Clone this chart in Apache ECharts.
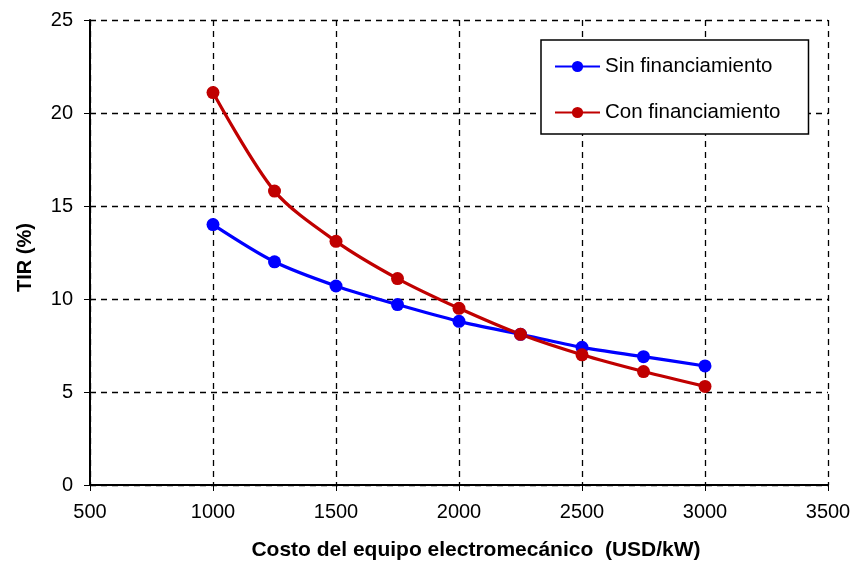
<!DOCTYPE html>
<html>
<head>
<meta charset="utf-8">
<script src="https://cdn.jsdelivr.net/npm/echarts@6/dist/echarts.min.js"></script>
<style>html,body{margin:0;padding:0;background:#fff}#c{width:855px;height:563px}</style>
</head>
<body>
<div id="c"></div>
<script>
// Equipment cost (USD/kW) and internal rate of return (%)
const costs = [1000, 1250, 1500, 1750, 2000, 2250, 2500, 2750, 3000];
const sinFinanciamiento = [14.0, 12.0, 10.7, 9.7, 8.8, 8.1, 7.4, 6.9, 6.4];
const conFinanciamiento = [21.1, 15.8, 13.1, 11.1, 9.5, 8.1, 7.0, 6.1, 5.3];
const seriesNames = ['Sin financiamiento', 'Con financiamiento'];
const xTitle = 'Costo del equipo electromecánico  (USD/kW)';
const yTitle = 'TIR (%)';

const font = '"Liberation Sans", Arial, sans-serif';
const pair = (xs, ys) => xs.map((x, i) => [x, ys[i]]);

const chart = echarts.init(document.getElementById('c'));
chart.setOption({
  animation: false,
  backgroundColor: '#fff',
  grid: { left: 90, right: 27, top: 20, bottom: 78, outerBoundsMode: 'none' },
  legend: {
    orient: 'vertical',
    left: 541, top: 40,
    padding: [16, 28, 11, 13],
    borderColor: '#000', borderWidth: 1.5, backgroundColor: '#fff',
    itemWidth: 45, itemHeight: 14, itemGap: 25,
    textStyle: { fontFamily: font, fontSize: 20.5, color: '#000' },
    data: seriesNames
  },
  xAxis: {
    type: 'value', min: 500, max: 3500, interval: 500,
    name: xTitle, nameLocation: 'middle', nameGap: 55,
    nameTextStyle: { fontFamily: font, fontSize: 21, fontWeight: 'bold', color: '#000', padding: [0, 0, 0, 34] },
    axisLine: { lineStyle: { color: '#000', width: 2 } },
    axisTick: { show: true, length: 6, lineStyle: { color: '#000', width: 1 } },
    axisLabel: { fontFamily: font, fontSize: 20, color: '#000', margin: 17, formatter: v => String(v) },
    splitLine: { show: true, lineStyle: { color: '#000', type: [6, 5], width: 1.3 } }
  },
  yAxis: {
    type: 'value', min: 0, max: 25, interval: 5,
    name: yTitle, nameLocation: 'middle', nameGap: 55, nameRotate: 90,
    nameTextStyle: { fontFamily: font, fontSize: 20, fontWeight: 'bold', color: '#000', padding: [0, 10, 0, 0] },
    axisLine: { show: true, lineStyle: { color: '#000', width: 2 } },
    axisTick: { show: true, length: 6, lineStyle: { color: '#000', width: 1 } },
    axisLabel: { fontFamily: font, fontSize: 20, color: '#000', margin: 17 },
    splitLine: { show: true, lineStyle: { color: '#000', type: [6, 5], width: 1.3 } }
  },
  series: [
    {
      name: seriesNames[0], type: 'line', smooth: 0.3,
      data: pair(costs, sinFinanciamiento),
      symbol: 'circle', symbolSize: 13,
      lineStyle: { color: '#0000ff', width: 3.2 },
      itemStyle: { color: '#0000ff' }
    },
    {
      name: seriesNames[1], type: 'line', smooth: 0.3,
      data: pair(costs, conFinanciamiento),
      symbol: 'circle', symbolSize: 13,
      lineStyle: { color: '#c00000', width: 3.2 },
      itemStyle: { color: '#c00000' }
    }
  ]
});
</script>
</body>
</html>
